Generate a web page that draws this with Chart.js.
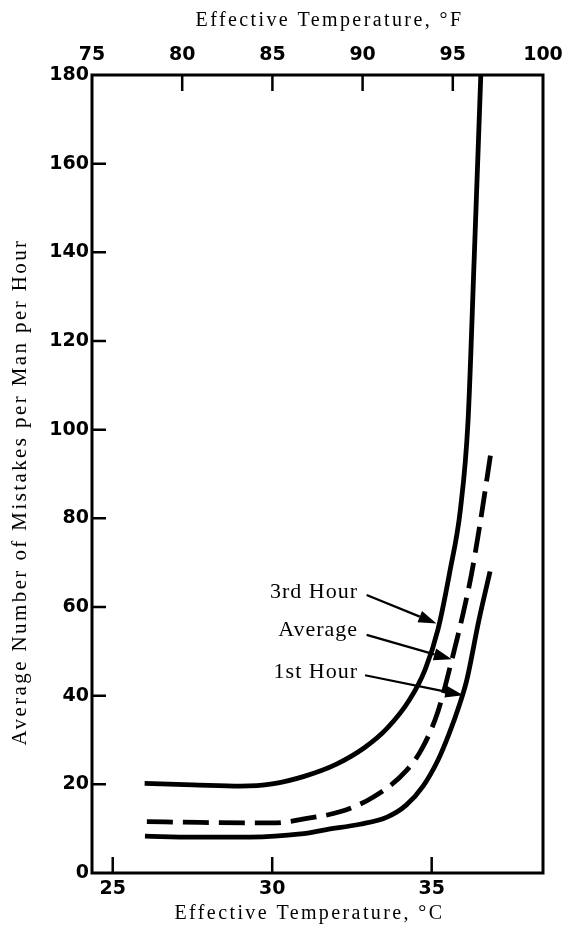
<!DOCTYPE html>
<html>
<head>
<meta charset="utf-8">
<title>Mistakes and effective temperature</title>
<script src="https://cdn.jsdelivr.net/npm/chart.js@4/dist/chart.umd.min.js"></script>
<style>
  html, body { margin: 0; padding: 0; background: #fff; }
  canvas { display: block; }
</style>
</head>
<body>
<canvas id="chart" width="565" height="941"></canvas>
<script>
// effective temperature (°C) and mistakes per man per hour along each curve
var thirdHourC = [26.0, 27.5, 29.0, 30.0, 31.0, 32.0, 32.9, 33.6, 34.3, 34.8, 35.2, 35.57, 35.9, 36.14, 36.33, 36.54];
var thirdHourY = [20.2, 19.9, 19.6, 20.1, 21.8, 24.5, 28.3, 32.6, 39.0, 46.0, 55.0, 68.0, 82.0, 102.0, 138.0, 180];

var averageC = [26.07, 27.74, 30.02, 31.09, 32.12, 33.16, 34.22, 34.73, 35.2, 35.63, 36.0, 36.25, 36.51, 36.88];
var averageY = [11.6, 11.4, 11.3, 12.3, 13.8, 17.1, 23.2, 28.5, 36.5, 48.0, 59.0, 67.5, 78.5, 96.0];

var firstHourC = [26.01, 27.5, 29.3, 30.9, 31.7, 32.75, 33.6, 34.2, 34.73, 35.2, 35.55, 35.85, 36.1, 36.48, 36.83];
var firstHourY = [8.3, 8.1, 8.1, 8.8, 9.8, 11.0, 12.6, 15.3, 19.6, 25.5, 31.5, 37.5, 43.5, 57.0, 68.0];

// axis ranges
var celsiusRange = [24.35, 38.49];
var fahrenheitRange = [75, 100];
var mistakesRange = [0, 180];

// labels with arrows pointing at the curves (data coordinates)
var callouts = [
  { label: '3rd Hour', text: [32.69, 62.0], tail: [32.96, 62.7], tip: [35.15, 56.3] },
  { label: 'Average',  text: [32.69, 53.4], tail: [32.96, 53.7], tip: [35.63, 48.2] },
  { label: '1st Hour', text: [32.69, 43.9], tail: [32.91, 44.6], tip: [35.99, 40.1] }
];

function toPoints(xs, ys) {
  return xs.map(function (x, i) { return { x: x, y: ys[i] }; });
}

var serif = '"Liberation Serif", "Times New Roman", serif';
var tickFont = { family: 'DejaVu Sans', weight: 'bold', size: 19 };

// frame, inward tick marks, axis titles and the arrow labels
var decorations = {
  id: 'decorations',
  afterDraw: function (chart) {
    var ctx = chart.ctx;
    var area = chart.chartArea;
    var sx = chart.scales.x, sx2 = chart.scales.x2, sy = chart.scales.y;
    ctx.save();
    ctx.strokeStyle = '#000';
    ctx.fillStyle = '#000';

    ctx.lineWidth = 3;
    ctx.strokeRect(area.left, area.top, area.right - area.left, area.bottom - area.top);

    ctx.lineWidth = 2.5;
    ctx.beginPath();
    sy.ticks.forEach(function (t) {
      if (t.value <= sy.min || t.value >= sy.max) return;
      var p = sy.getPixelForValue(t.value);
      ctx.moveTo(area.left, p); ctx.lineTo(area.left + 14, p);
    });
    sx.ticks.forEach(function (t) {
      if (t.value <= sx.min || t.value >= sx.max) return;
      var p = sx.getPixelForValue(t.value);
      ctx.moveTo(p, area.bottom); ctx.lineTo(p, area.bottom - 16);
    });
    sx2.ticks.forEach(function (t) {
      if (t.value <= sx2.min || t.value >= sx2.max) return;
      var p = sx2.getPixelForValue(t.value);
      ctx.moveTo(p, area.top); ctx.lineTo(p, area.top + 16);
    });
    ctx.stroke();

    // axis titles
    ctx.font = '20px ' + serif;
    ctx.letterSpacing = '2.4px';
    ctx.textAlign = 'center';
    ctx.textBaseline = 'alphabetic';
    var midX = (area.left + area.right) / 2;
    ctx.fillText('Effective Temperature, \u00B0F', midX + 12, area.top - 49);
    ctx.fillText('Effective Temperature, \u00B0C', midX - 8, area.bottom + 46);

    ctx.save();
    ctx.font = '21px ' + serif;
    ctx.translate(26, (area.top + area.bottom) / 2 + 18);
    ctx.rotate(-Math.PI / 2);
    ctx.fillText('Average Number of Mistakes per Man per Hour', 0, 0);
    ctx.restore();

    // callout labels and arrows
    ctx.font = '22px ' + serif;
    ctx.letterSpacing = '1px';
    ctx.textAlign = 'right';
    callouts.forEach(function (c) {
      ctx.fillText(c.label, sx.getPixelForValue(c.text[0]), sy.getPixelForValue(c.text[1]));
      var x0 = sx.getPixelForValue(c.tail[0]), y0 = sy.getPixelForValue(c.tail[1]);
      var x1 = sx.getPixelForValue(c.tip[0]), y1 = sy.getPixelForValue(c.tip[1]);
      var ang = Math.atan2(y1 - y0, x1 - x0);
      var head = 18, half = 6;
      var bx = x1 - head * Math.cos(ang), by = y1 - head * Math.sin(ang);
      ctx.lineWidth = 2.2;
      ctx.beginPath();
      ctx.moveTo(x0, y0);
      ctx.lineTo(bx, by);
      ctx.stroke();
      ctx.beginPath();
      ctx.moveTo(x1, y1);
      ctx.lineTo(bx + half * Math.sin(ang), by - half * Math.cos(ang));
      ctx.lineTo(bx - half * Math.sin(ang), by + half * Math.cos(ang));
      ctx.closePath();
      ctx.fill();
    });
    ctx.restore();
  }
};

function lineSet(label, points, dash) {
  return {
    label: label,
    data: points,
    borderColor: '#000',
    backgroundColor: '#000',
    borderWidth: 4.8,
    borderDash: dash || [],
    borderCapStyle: 'butt',
    pointRadius: 0,
    cubicInterpolationMode: 'monotone',
    fill: false
  };
}

var chart = new Chart(document.getElementById('chart').getContext('2d'), {
  type: 'line',
  data: {
    datasets: [
      lineSet('3rd Hour', toPoints(thirdHourC, thirdHourY)),
      lineSet('Average', toPoints(averageC, averageY), [26, 10]),
      lineSet('1st Hour', toPoints(firstHourC, firstHourY))
    ]
  },
  options: {
    responsive: false,
    devicePixelRatio: 1,
    animation: false,
    layout: { padding: { left: 0, right: 22, top: 0, bottom: 0 } },
    plugins: {
      legend: { display: false },
      tooltip: { enabled: false }
    },
    scales: {
      x: {
        type: 'linear',
        position: 'bottom',
        min: celsiusRange[0],
        max: celsiusRange[1],
        grid: { display: false, drawTicks: false },
        border: { display: false },
        ticks: { stepSize: 5, includeBounds: false, color: '#000', font: tickFont, padding: 5, maxRotation: 0 },
        afterFit: function (s) { s.height = 68; s.paddingLeft = 0; s.paddingRight = 0; }
      },
      x2: {
        type: 'linear',
        position: 'top',
        min: fahrenheitRange[0],
        max: fahrenheitRange[1],
        grid: { display: false, drawTicks: false },
        border: { display: false },
        ticks: { stepSize: 5, color: '#000', font: tickFont, padding: 9, maxRotation: 0 },
        afterFit: function (s) { s.height = 75; s.paddingLeft = 0; s.paddingRight = 0; }
      },
      y: {
        type: 'linear',
        min: mistakesRange[0],
        max: mistakesRange[1],
        grid: { display: false, drawTicks: false },
        border: { display: false },
        ticks: { stepSize: 20, color: '#000', font: tickFont, padding: 3 },
        afterFit: function (s) { s.width = 92; s.paddingTop = 0; s.paddingBottom = 0; }
      }
    }
  },
  plugins: [decorations]
});
</script>
</body>
</html>
